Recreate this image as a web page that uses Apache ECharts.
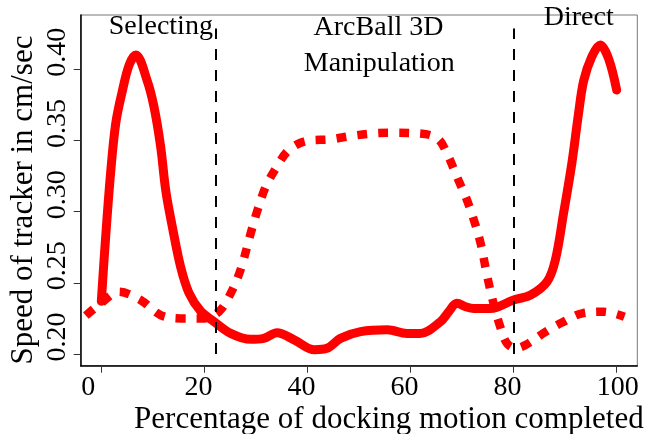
<!DOCTYPE html>
<html>
<head>
<meta charset="utf-8">
<script src="https://cdn.jsdelivr.net/npm/echarts@6/dist/echarts.min.js"></script>
<style>
html,body{margin:0;padding:0;background:#fff;}
#chart{width:654px;height:434px;}
</style>
</head>
<body>
<div id="chart"></div>
<script>
// Solid curve (Selecting / Direct technique)
const solidX = [0, 0.8, 1.8, 2.8, 4.1, 5.4, 6.7, 8.9, 10.2, 11.5, 12.5, 13.8, 15.4, 17.0, 19.3, 21.8, 25.1, 29.0, 31.5, 34.1, 37.4, 41.4, 43.8, 46.4, 50.3, 55.5, 59.3, 61.9, 65.8, 67.4, 69.0, 70.7, 72.3, 75.5, 80.0, 83.3, 86.5, 88.1, 89.7, 91.3, 92.6, 93.6, 95.2, 96.8, 98.4, 100];
const solidY = [0.237, 0.280, 0.327, 0.362, 0.385, 0.403, 0.410, 0.392, 0.374, 0.346, 0.315, 0.289, 0.261, 0.243, 0.230, 0.223, 0.2145, 0.2103, 0.211, 0.215, 0.210, 0.2030, 0.204, 0.211, 0.2157, 0.217, 0.2145, 0.2145, 0.2227, 0.2297, 0.2356, 0.2332, 0.232, 0.232, 0.238, 0.2414, 0.2508, 0.266, 0.299, 0.334, 0.369, 0.392, 0.409, 0.417, 0.4077, 0.3854];
// Dashed curve (ArcBall technique)
const dashX = [-3.0, -0.1, 3.4, 7.6, 11.5, 15.4, 19.6, 22.8, 25.1, 27.0, 29.0, 30.3, 31.9, 33.8, 36.4, 40.0, 44.5, 48.4, 52.9, 56.7, 61.3, 65.2, 67.3, 69.0, 70.7, 72.3, 73.6, 74.9, 76.1, 77.4, 78.7, 80.4, 82.3, 86.2, 89.4, 93.3, 97.5, 101.5];
const dashY = [0.227, 0.2356, 0.2437, 0.2379, 0.2274, 0.225, 0.225, 0.2297, 0.2426, 0.259, 0.285, 0.301, 0.3175, 0.330, 0.3433, 0.3498, 0.3508, 0.3531, 0.355, 0.3554, 0.355, 0.3515, 0.339, 0.3245, 0.3105, 0.294, 0.2777, 0.2543, 0.2356, 0.2192, 0.2075, 0.204, 0.2063, 0.2156, 0.2221, 0.2286, 0.2297, 0.2262];
// Phase boundaries
const phaseBounds = [22.2, 80.0];
const phaseLineRange = [0.2, 0.4286];
// Ticks
const xTicks = [0, 20, 40, 60, 80, 100];
const yTicks = [0.20, 0.25, 0.30, 0.35, 0.40];
// Texts
const xTitle = 'Percentage of docking motion completed';
const yTitle = 'Speed of tracker in cm/sec';
const phaseLabels = ['Selecting', 'ArcBall 3D', 'Manipulation', 'Direct'];

const FONT = '"Liberation Serif", "Times New Roman", serif';

const solidData = solidX.map((x, i) => [x, solidY[i]]);
const dashData = dashX.map((x, i) => [x, dashY[i]]);

const chart = echarts.init(document.getElementById('chart'));
chart.setOption({
  animation: false,
  backgroundColor: '#fff',
  grid: {
    left: 80.7, top: 15, right: 16.7, bottom: 68.3,
    show: true, borderColor: '#777', borderWidth: 1,
    containLabel: false, outerBoundsMode: 'none'
  },
  xAxis: {
    type: 'value', min: -4, max: 104,
    splitLine: { show: false },
    axisLine: { onZero: false, lineStyle: { color: '#000', width: 1.5 } },
    axisTick: { customValues: xTicks, length: 7, lineStyle: { color: '#333', width: 1 } },
    axisLabel: {
      customValues: xTicks, margin: 8,
      fontFamily: FONT, fontSize: 28, color: '#000',
      formatter: v => '{a|' + String(Math.round(v)) + '}',
      rich: {
        a: { fontFamily: FONT, fontSize: 28, width: 40, align: 'left' }
      }
    }
  },
  yAxis: {
    type: 'value', min: 0.1918, max: 0.4381,
    splitLine: { show: false },
    axisLine: { show: true, onZero: false, lineStyle: { color: '#000', width: 1.5 } },
    axisTick: { show: true, customValues: yTicks, length: 7, lineStyle: { color: '#333', width: 1 } },
    axisLabel: {
      customValues: yTicks, margin: 9, rotate: 90,
      fontFamily: FONT, fontSize: 28, color: '#000',
      formatter: v => '{a|' + v.toFixed(2) + '}',
      rich: { a: { fontFamily: FONT, fontSize: 28, padding: [0, 0, 0, 34] } }
    }
  },
  series: [
    {
      type: 'line', data: dashData, showSymbol: false, smooth: 0.35,
      lineStyle: { color: '#ff0000', width: 8.5, type: [10, 11], cap: 'butt', join: 'miter' },
      z: 2, silent: true,
      markLine: {
        silent: true, symbol: ['none', 'none'], label: { show: false },
        lineStyle: { color: '#000', width: 2, type: [11, 10] },
        data: phaseBounds.map(x => [{ coord: [x, phaseLineRange[0]] }, { coord: [x, phaseLineRange[1]] }])
      }
    },
    {
      type: 'line', data: solidData, showSymbol: false, smooth: 0.35,
      lineStyle: { color: '#ff0000', width: 9, type: 'solid', cap: 'round', join: 'round' },
      z: 3, silent: true
    }
  ],
  graphic: [
    { type: 'text', x: 160.8, y: 27, style: { text: phaseLabels[0], font: '28px ' + FONT, fill: '#000', align: 'center', verticalAlign: 'middle' }, z: 10 },
    { type: 'text', x: 378.5, y: 27.7, style: { text: phaseLabels[1], font: '28px ' + FONT, fill: '#000', align: 'center', verticalAlign: 'middle' }, z: 10 },
    { type: 'text', x: 379.2, y: 63.7, style: { text: phaseLabels[2], font: '28px ' + FONT, fill: '#000', align: 'center', verticalAlign: 'middle' }, z: 10 },
    { type: 'text', x: 578.7, y: 17.7, style: { text: phaseLabels[3], font: '28px ' + FONT, fill: '#000', align: 'center', verticalAlign: 'middle' }, z: 10 },
    { type: 'text', x: 388.9, y: 419.5, style: { text: xTitle, font: '31px ' + FONT, fill: '#000', align: 'center', verticalAlign: 'middle' }, z: 10 },
    { type: 'text', x: 23.5, y: 200, rotation: Math.PI / 2, style: { text: yTitle, font: '31px ' + FONT, fill: '#000', align: 'center', verticalAlign: 'middle' }, z: 10 }
  ]
});
</script>
</body>
</html>
